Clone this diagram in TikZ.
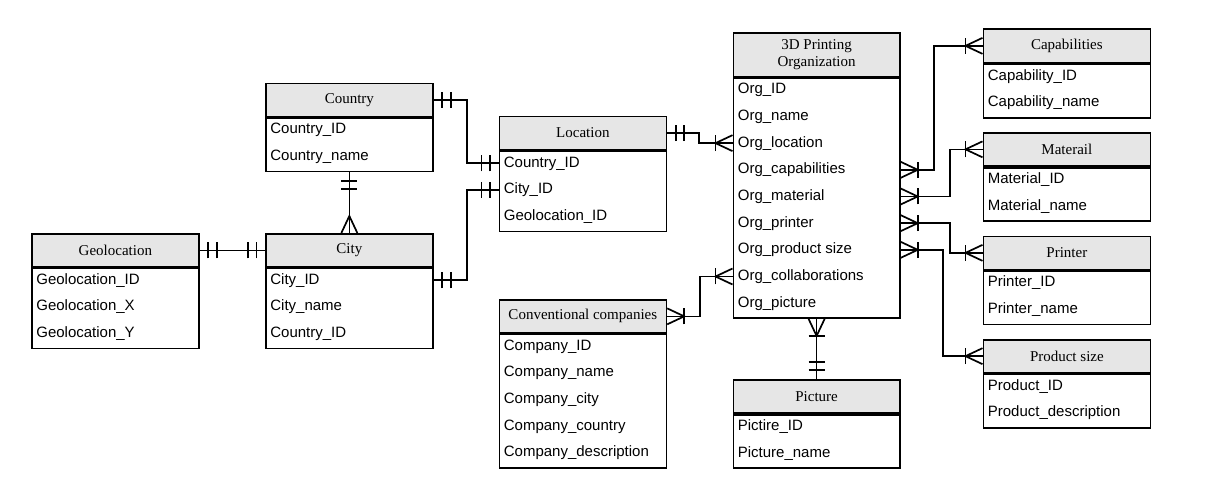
\documentclass[tikz,border=0pt]{standalone}
\usepackage{fontspec}
\setmainfont{Liberation Serif}
\setsansfont{Liberation Sans}
\usetikzlibrary{calc,decorations.markings}
\definecolor{hdrgray}{RGB}{230,230,230}
\tikzset{
  hdr/.style={draw, fill=hdrgray, inner sep=0pt, anchor=north west, align=center,
    font=\fontsize{15}{17.5}\selectfont},
  bodybox/.style={draw, inner sep=0pt, anchor=north west},
  rowtxt/.style={inner sep=0pt, anchor=base west, text height=11pt, text depth=3pt,
    font=\sffamily\fontsize{15}{18}\selectfont},
  barmark/.style={postaction={decorate,decoration={markings,
    mark=at position #1 with {\draw (0,-8pt)--(0,8pt);}}}},
  one start/.style={barmark=8.5pt, barmark=17pt},
  one end/.style={barmark=-8.5pt, barmark=-17pt},
  many end/.style={postaction={decorate,decoration={markings,
    mark=at position -17pt with {\draw (17pt,8pt)--(0,0)--(17pt,-8pt);}}}},
  many start/.style={postaction={decorate,decoration={markings,
    mark=at position 17pt with {\draw (-17pt,8pt)--(0,0)--(-17pt,-8pt);}}}},
  manyone end/.style={many end, barmark=-17pt},
  manyone start/.style={many start, barmark=17pt},
}
\newcommand\erent[7]{%
  \node[hdr, minimum width=#4pt, minimum height=#5pt] (#1) at (#2,#3) {#6};
  \foreach \r [count=\i] in {#7} {\xdef\ernrows{\i}}
  \node[bodybox, minimum width=#4pt, minimum height={\ernrows*26.67pt}] (#1-b) at (#1.south west) {};
  \foreach \r [count=\i] in {#7}
    \node[rowtxt] (#1-\i) at ($(#1.south west)+(4.5,{16.6+(\i-1)*26.67})$) {\r};
}
\begin{document}
\begin{tikzpicture}[x=1pt,y=-1pt,line width=1.7pt]
\useasboundingbox[fill=white] (0,0) rectangle (1206,488);

\erent{country}{265}{82.5}{167}{33}{Country}{Country\_ID,Country\_name}
\erent{city}{265}{233}{167}{33}{City}{City\_ID,City\_name,Country\_ID}
\erent{geo}{31}{233}{167}{33}{Geolocation}{Geolocation\_ID,Geolocation\_X,Geolocation\_Y}
\erent{location}{498.5}{115.5}{167}{33.5}{Location}{Country\_ID,City\_ID,Geolocation\_ID}
\erent{conv}{498.5}{299}{167}{33}{Conventional companies}{Company\_ID,Company\_name,Company\_city,Company\_country,Company\_description}
\erent{org}{732.5}{32.2}{166.5}{43.3}{3D Printing\\Organization}{Org\_ID,Org\_name,Org\_location,Org\_capabilities,Org\_material,Org\_printer,Org\_product size,Org\_collaborations,Org\_picture}
\erent{cap}{982.5}{28}{167}{34}{Capabilities}{Capability\_ID,Capability\_name}
\erent{mat}{982.5}{131.8}{167}{33.4}{Materail}{Material\_ID,Material\_name}
\erent{printer}{982.5}{235.5}{167}{33}{Printer}{Printer\_ID,Printer\_name}
\erent{product}{982.5}{338.8}{167}{33}{Product size}{Product\_ID,Product\_description}
\erent{picture}{732.5}{378.8}{166.5}{33.4}{Picture}{Pictire\_ID,Picture\_name}

\draw[one start, one end] (country.east) -- ++(33,0) |- (location.west |- location-1);
\draw[one start, one end] (city.east |- city-1) -- ++(33,0) |- (location.west |- location-2);
\draw[one start, one end] (geo.east) -- (city.west);
\draw[one start, many end] (country-b.south) -- (city.north);
\draw[one start, manyone end] (location.east) -- ++(32,0) |- (org.west |- org-3);
\draw[manyone start, manyone end] (conv.east) -- ++(33,0) |- (org.west |- org-8);
\draw[manyone start, one end] (org-b.south) -- (picture.north);
\draw[manyone start, manyone end] (org.east |- org-4) -- ++(33,0) |- (cap.west);
\draw[manyone start, manyone end] (org.east |- org-5) -- ++(49,0) |- (mat.west);
\draw[manyone start, manyone end] (org.east |- org-6) -- ++(49,0) |- (printer.west);
\draw[manyone start, manyone end] (org.east |- org-7) -- ++(42,0) |- (product.west);
\end{tikzpicture}
\end{document}
